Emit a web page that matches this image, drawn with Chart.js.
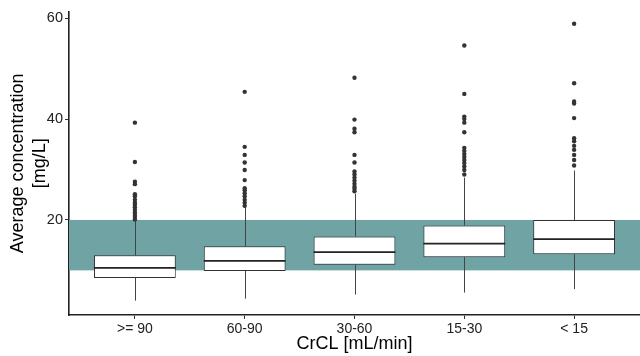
<!DOCTYPE html>
<html>
<head>
<meta charset="utf-8">
<script src="https://cdn.jsdelivr.net/npm/chart.js@4.4.1/dist/chart.umd.min.js"></script>
<style>
  html, body { margin: 0; padding: 0; background: #fff; overflow: hidden; }
  canvas { display: block; }
</style>
</head>
<body>
<canvas id="chart" width="644" height="356"></canvas>
<script>
// CrCL groups and box statistics (mg/L)
const categories = ['>= 90', '60-90', '30-60', '15-30', '< 15']
const whiskerLow = [4.0, 4.4, 5.2, 5.6, 6.3]
const q1 = [8.5, 9.9, 11.1, 12.6, 13.2]
const median = [10.5, 11.9, 13.6, 15.3, 16.2]
const q3 = [13.0, 14.8, 16.7, 18.9, 20.0]
const whiskerHigh = [19.7, 22.6, 25.2, 28.4, 29.8]

const outliers = [
  [39.3, 31.5, 27.6, 27.1, 25.1, 24.7, 24.0, 23.4, 23.0, 22.5, 22.0, 21.5, 21.0, 20.6, 20.1],
  [45.4, 34.5, 32.9, 31.4, 29.9, 27.9, 26.3, 25.9, 25.3, 24.7, 24.0, 23.4, 22.8],
  [48.2, 39.9, 38.1, 37.4, 32.9, 31.4, 29.6, 29.0, 28.4, 27.8, 27.2, 26.6, 26.2, 25.7],
  [54.6, 45.0, 40.5, 40.0, 39.3, 37.4, 34.3, 33.7, 33.1, 32.5, 31.9, 31.3, 30.6, 29.9, 29.0],
  [58.9, 47.1, 43.5, 43.1, 40.2, 36.2, 35.6, 34.7, 33.9, 32.9, 31.9, 30.8]
]

// target range shaded band
const bandLow = 10
const bandHigh = 20

const yTicks = [20, 40, 60]

Chart.defaults.font.family = "'Liberation Sans', Arial, sans-serif"

const boxPlotPlugin = {
  id: 'boxPlot',
  beforeDatasetsDraw(chart) {
    const { ctx, chartArea, scales: { x, y } } = chart
    ctx.save()
    ctx.fillStyle = 'rgb(112,163,163)'
    const top = y.getPixelForValue(bandHigh)
    const bottom = y.getPixelForValue(bandLow)
    ctx.fillRect(chartArea.left, top, chartArea.right - chartArea.left, bottom - top)

    ctx.strokeStyle = '#444'
    ctx.lineWidth = 1
    categories.forEach((c, i) => {
      const px = Math.round(x.getPixelForValue(i + 1)) + 0.5
      ctx.beginPath()
      ctx.moveTo(px, y.getPixelForValue(q3[i]))
      ctx.lineTo(px, y.getPixelForValue(whiskerHigh[i]))
      ctx.moveTo(px, y.getPixelForValue(q1[i]))
      ctx.lineTo(px, y.getPixelForValue(whiskerLow[i]))
      ctx.stroke()
    })
    ctx.restore()
  },
  afterDatasetsDraw(chart) {
    const { ctx, scales: { y } } = chart
    const bars = chart.getDatasetMeta(0).data
    ctx.save()
    ctx.strokeStyle = '#222'
    ctx.lineWidth = 1.8
    bars.forEach((bar, i) => {
      const py = y.getPixelForValue(median[i])
      ctx.beginPath()
      ctx.moveTo(bar.x - bar.width / 2, py)
      ctx.lineTo(bar.x + bar.width / 2, py)
      ctx.stroke()
    })
    ctx.restore()
  }
}

const noPad = (scale) => {
  scale.paddingTop = 0
  scale.paddingBottom = 0
  scale.paddingLeft = 0
  scale.paddingRight = 0
}

new Chart(document.getElementById('chart'), {
  type: 'bar',
  data: {
    datasets: [
      {
        label: 'box',
        data: categories.map((c, i) => ({ x: i + 1, y: [q1[i], q3[i]] })),
        backgroundColor: '#fff',
        borderColor: '#333',
        borderWidth: 1,
        borderSkipped: false,
        barPercentage: 0.745,
        categoryPercentage: 1,
        order: 2
      },
      {
        label: 'outliers',
        type: 'line',
        showLine: false,
        data: outliers.flatMap((vals, i) => vals.map(v => ({ x: i + 1, y: v }))),
        pointRadius: 2.2,
        pointBackgroundColor: '#333',
        pointBorderWidth: 0,
        order: 1
      }
    ]
  },
  options: {
    responsive: false,
    animation: false,
    layout: { padding: { top: 11.7, left: 0, right: 0, bottom: 0 } },
    plugins: { legend: { display: false }, tooltip: { enabled: false } },
    scales: {
      x: {
        type: 'linear',
        offset: false,
        min: 0.4,
        max: 5.6,
        afterBuildTicks: (scale) => { scale.ticks = categories.map((c, i) => ({ value: i + 1 })) },
        afterFit: (scale) => { scale.height = 41; noPad(scale) },
        ticks: {
          callback: (v) => categories[Math.round(v) - 1] ?? '',
          color: '#222',
          font: { size: 14 },
          padding: 2,
          maxRotation: 0,
          autoSkip: false
        },
        grid: { offset: false, drawOnChartArea: false, tickLength: 4, tickColor: '#333' },
        border: { color: '#222', width: 1.6 },
        title: {
          display: true,
          text: 'CrCL [mL/min]',
          color: '#000',
          font: { size: 18 },
          padding: { top: 0, bottom: 1 }
        }
      },
      y: {
        min: 1.15,
        max: 61.3,
        afterBuildTicks: (scale) => { scale.ticks = yTicks.map(v => ({ value: v })) },
        afterFit: (scale) => { scale.width = 69; noPad(scale) },
        ticks: { color: '#222', font: { size: 14.5 }, padding: 2 },
        grid: { drawOnChartArea: false, tickLength: 4, tickColor: '#333' },
        border: { color: '#222', width: 1.6 },
        title: {
          display: true,
          text: ['Average concentration', '[mg/L]'],
          color: '#000',
          font: { size: 18 },
          padding: { top: 7.5, bottom: 0 }
        }
      }
    }
  },
  plugins: [boxPlotPlugin]
})
</script>
</body>
</html>
